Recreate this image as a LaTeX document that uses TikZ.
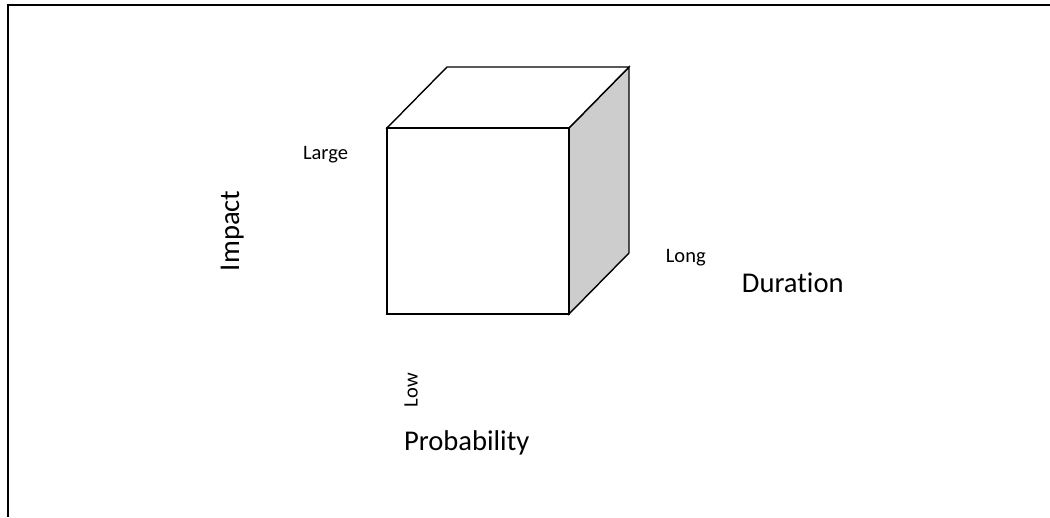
\documentclass[tikz,border=0pt]{standalone}
\usepackage{fontspec}
\setmainfont{Carlito}[Ligatures=NoCommon]
\usepackage{tikz}
\definecolor{sidegray}{RGB}{205,205,205}
\tikzset{
  small label/.style={font=\fontsize{20.5}{24}\selectfont},
  axis label/.style={font=\fontsize{28.6}{34}\selectfont},
  cube edge/.style={line width=1.4pt,line join=miter}
}
\begin{document}
\begin{tikzpicture}[x=1pt,y=1pt]
\useasboundingbox (0,0) rectangle (1050,517);
\draw[line width=2pt] (7.7,0) -- (7.7,512) -- (1050,512);
% cube corners
\coordinate (fbl) at (387,203);
\coordinate (fbr) at (569,203);
\coordinate (ftr) at (569,389);
\coordinate (ftl) at (387,389);
\coordinate (btl) at (447,450);
\coordinate (btr) at (629,450);
\coordinate (bbr) at (629,264);
\draw[cube edge,fill=sidegray] (fbr) -- (ftr) -- (btr) -- (bbr) -- cycle;
\draw[cube edge,fill=white] (ftl) -- (btl) -- (btr) -- (ftr) -- cycle;
\draw[cube edge,fill=white] (fbl) rectangle (ftr);
\node[small label,anchor=base] (large) at (325.5,357.7) {Large};
\node[small label,anchor=base] (long) at (685.8,254.7) {Long};
\node[small label,anchor=base,rotate=90] (low) at (417.7,127) {Low};
\node[axis label,anchor=base] (duration) at (792.8,224.3) {Duration};
\node[axis label,anchor=base] (probability) at (466.7,66.3) {Probability};
\node[axis label,anchor=base,rotate=90] (impact) at (239,286.2) {Impact};
\end{tikzpicture}
\end{document}
